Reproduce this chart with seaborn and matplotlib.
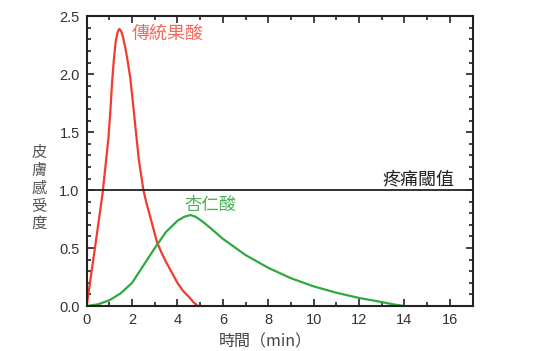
import matplotlib
matplotlib.use("Agg")
import matplotlib.pyplot as plt
import seaborn as sns
import pandas as pd
from matplotlib.ticker import MultipleLocator

# Data
red_x = [0, 0.35, 0.7, 0.96, 1.05, 1.12, 1.2, 1.28, 1.36, 1.44, 1.52, 1.6, 1.7,
         1.8, 1.92, 2.03, 2.14, 2.3, 2.5, 2.62, 2.8, 3.1, 3.3, 3.5, 3.75, 4.0,
         4.25, 4.5, 4.7, 4.9]
red_y = [0, 0.48, 0.97, 1.45, 1.7, 1.93, 2.13, 2.28, 2.36, 2.39, 2.37, 2.32, 2.23,
         2.12, 1.97, 1.77, 1.56, 1.26, 1.0, 0.9, 0.77, 0.55, 0.46, 0.38, 0.29, 0.2,
         0.13, 0.08, 0.035, 0.0]
green_x = [0, 0.5, 1, 1.5, 2, 2.5, 3, 3.5, 4, 4.3, 4.57, 4.8, 5.1, 5.5, 6, 6.5, 7,
           8, 9, 10, 11, 12, 13, 13.5, 14]
green_y = [0, 0.015, 0.05, 0.11, 0.2, 0.35, 0.5, 0.64, 0.735, 0.77, 0.785, 0.77,
           0.73, 0.665, 0.58, 0.51, 0.44, 0.33, 0.24, 0.17, 0.115, 0.07, 0.035,
           0.015, 0.0]
threshold = 1.0
red_label = "傳統果酸"
green_label = "杏仁酸"
threshold_label = "疼痛閾值"
y_label_chars = ["皮", "膚", "感", "受", "度"]
x_label = "時間（min）"
x_ticks = [0, 2, 4, 6, 8, 10, 12, 14, 16]
y_ticks = [0.0, 0.5, 1.0, 1.5, 2.0, 2.5]

sns.set_style("ticks")
plt.rcParams["font.family"] = ["Liberation Sans", "Noto Sans CJK TC", "DejaVu Sans"]

fig = plt.figure(figsize=(5.52, 3.51), dpi=100)
ax = fig.add_axes([0.157, 0.128, 0.699, 0.826])

df_red = pd.DataFrame({"x": red_x, "y": red_y})
df_green = pd.DataFrame({"x": green_x, "y": green_y})
sns.lineplot(data=df_red, x="x", y="y", ax=ax, color="#f23a30", lw=1.6, sort=False)
sns.lineplot(data=df_green, x="x", y="y", ax=ax, color="#2fa83f", lw=1.6, sort=False)
ax.axhline(threshold, color="#222222", lw=1.3)

ax.set_xlim(0, 17)
ax.set_ylim(0, 2.5)
ax.set_xticks(x_ticks)
ax.set_yticks(y_ticks)
ax.set_yticklabels([f"{v:.1f}" for v in y_ticks])
ax.xaxis.set_minor_locator(MultipleLocator(1))
ax.yaxis.set_minor_locator(MultipleLocator(0.1))
ax.tick_params(which="both", direction="in", top=True, right=True, color="#222222",
               width=1.2, labelsize=10.5, labelcolor="#333333")
ax.tick_params(which="major", length=5, pad=5)
ax.tick_params(which="minor", length=3)
for s in ax.spines.values():
    s.set_linewidth(1.5)
    s.set_color("#222222")
ax.set_xlabel("")
ax.set_ylabel("")

ax.text(3.56, 2.35, red_label, color="#f06a5e", fontsize=13,
        family=["Noto Sans CJK TC"], ha="center", va="center")
ax.text(5.45, 0.87, green_label, color="#4cb258", fontsize=12.5,
        family=["Noto Sans CJK TC"], ha="center", va="center")
ax.text(16.2, 1.095, threshold_label, color="#222222", fontsize=13,
        family=["Noto Sans CJK TC"], ha="right", va="center")

fig.text(39 / 552, 1 - 188 / 351, "\n".join(y_label_chars), color="#555555",
         fontsize=11, family=["Noto Sans CJK TC"], ha="center", va="center",
         linespacing=1.05)
fig.text(265 / 552, 1 - 342 / 351, x_label, color="#444444", fontsize=11.5,
         family=["Noto Sans CJK TC", "Liberation Sans"], ha="center", va="center")

fig.savefig("out.png", dpi=100)
